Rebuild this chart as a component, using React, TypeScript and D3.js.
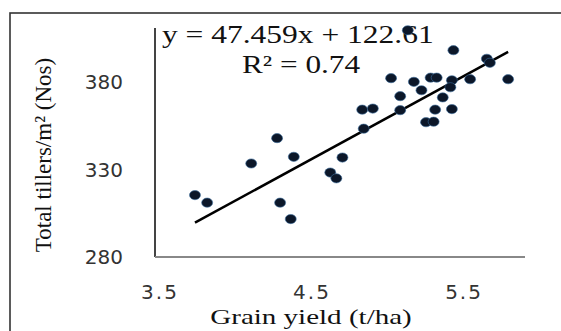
import React from "react";
import * as d3 from "d3";

const grainYield = [3.73, 3.81, 4.10, 4.27, 4.38, 4.29, 4.36, 4.62, 4.66, 4.70, 4.84, 4.83, 4.90, 5.08, 5.08, 5.02, 5.17, 5.22, 5.28, 5.32, 5.42, 5.54, 5.79, 5.41, 5.36, 5.31, 5.42, 5.25, 5.30, 5.43, 5.65, 5.67, 5.13];
const totalTillers = [315.4, 311.1, 333.5, 348.0, 337.3, 311.1, 301.7, 328.3, 325.0, 336.9, 353.4, 364.3, 364.9, 364.0, 372.0, 382.3, 380.2, 375.4, 382.6, 382.6, 381.1, 381.7, 381.7, 377.1, 371.3, 364.3, 364.6, 357.1, 357.4, 398.3, 393.4, 391.1, 409.7];
const xTicks = [3.5, 4.5, 5.5];
const yTicks = [280, 330, 380];
const slope = 47.459;
const intercept = 122.61;
const rSquared = 0.74;
const xTitle = "Grain yield (t/ha)";
const yTitle = "Total tillers/m² (Nos)";

const W = 561;
const H = 331;
const plot = { left: 155, right: 525, top: 28, bottom: 257 };

export default function App() {
  const x = d3.scaleLinear().domain([3.467, 5.901]).range([plot.left, plot.right]);
  const y = d3.scaleLinear().domain([280, 411]).range([plot.bottom, plot.top]);
  const pts = grainYield.map((g, i) => ({ g, t: totalTillers[i] }));
  const [xmin, xmax] = d3.extent(grainYield) as [number, number];
  const trend = d3.line<number>().x((v) => x(v)).y((v) => y(slope * v + intercept))([xmin, xmax]) || "";
  const serif = "'Liberation Serif', 'Times New Roman', serif";
  const sans = "'DejaVu Sans', Verdana, sans-serif";
  return (
    <svg width={W} height={H} style={{ position: "absolute", left: 0, top: 0, background: "#fff" }}>
      <rect x={10} y={13} width={600} height={400} fill="none" stroke="#333" strokeWidth={1.6} />
      {/* axes */}
      <line x1={plot.left} x2={plot.left} y1={plot.top} y2={plot.bottom} stroke="#444" strokeWidth={2} />
      <line x1={plot.left} x2={plot.right} y1={plot.bottom} y2={plot.bottom} stroke="#888" strokeWidth={2} />
      {yTicks.map((t) => (
        <text key={t} x={123} y={y(t)} textAnchor="end" dominantBaseline="central" fontFamily={sans} fontSize={20} fill="#333">
          {t}
        </text>
      ))}
      {xTicks.map((t) => (
        <text key={t} x={x(t)} y={292} textAnchor="middle" dominantBaseline="central" fontFamily={sans} fontSize={20} letterSpacing={2} fill="#333">
          {t.toFixed(1)}
        </text>
      ))}
      <text transform={`translate(311,324) scale(1.32,1)`} textAnchor="middle" fontFamily={serif} fontSize={22} fill="#111">
        {xTitle}
      </text>
      <text transform={`translate(51,155) rotate(-90)`} textAnchor="middle" fontFamily={serif} fontSize={23} fill="#111">
        {yTitle}
      </text>
      {/* equation */}
      <text transform={`translate(162,43) scale(1.26,1)`} fontFamily={serif} fontSize={25} fill="#111">
        {`y = ${slope}x + ${intercept}`}
      </text>
      <text transform={`translate(242,73) scale(1.25,1)`} fontFamily={serif} fontSize={25} fill="#111">
        {`R² = ${rSquared}`}
      </text>
      <path d={trend} stroke="#000" strokeWidth={2.5} fill="none" />
      {pts.map((p, i) => (
        <ellipse key={i} cx={x(p.g)} cy={y(p.t)} rx={5.5} ry={4.6} fill="#0c1729" stroke="#3a6d9c" strokeOpacity={0.6} strokeWidth={1} />
      ))}
    </svg>
  );
}
